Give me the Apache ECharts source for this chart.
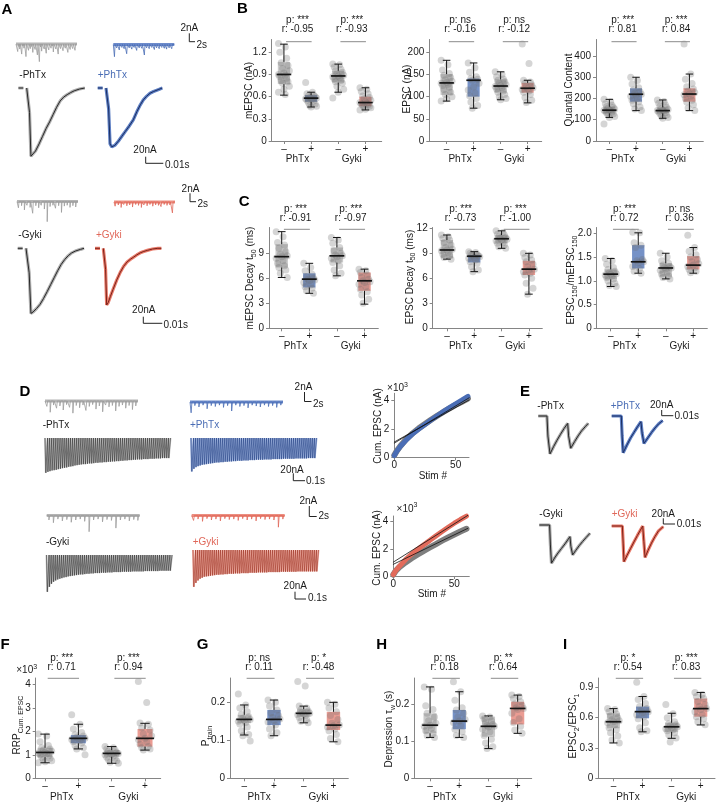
<!DOCTYPE html>
<html>
<head>
<meta charset="utf-8">
<script src="https://cdn.jsdelivr.net/npm/echarts@6.0.0/dist/echarts.min.js"></script>
<style>
html,body{margin:0;padding:0;background:#fff;}
#chart{width:721px;height:806px;}
</style>
</head>
<body>
<div id="chart"></div>
<script>
// ================= DATA =================
const conditionLabels = ['–', '+', '–', '+'];
const drugLabels = ['PhTx', 'Gyki'];

// B – mEPSC amplitude (nA)
const mepscAmpTicks = [0, 0.3, 0.6, 0.9, 1.2];
const mepscAmpPoints = [
  [1.32,1.27,1.20,1.12,1.06,1.02,0.98,0.95,0.92,0.90,0.89,0.87,0.85,0.82,0.80,0.78,0.74,0.70,0.66,0.63],
  [0.79,0.66,0.64,0.62,0.61,0.60,0.59,0.58,0.57,0.57,0.56,0.55,0.54,0.52,0.50,0.48,0.47,0.46],
  [1.04,1.03,1.00,0.97,0.95,0.93,0.91,0.89,0.88,0.87,0.86,0.84,0.82,0.80,0.78,0.74,0.70,0.66,0.58],
  [0.72,0.70,0.67,0.64,0.61,0.59,0.57,0.55,0.53,0.52,0.51,0.50,0.49,0.48,0.47,0.46,0.45,0.43,0.42]
];
const mepscAmpBox = [[0.62,0.77,0.90,1.07,1.31],[0.46,0.53,0.58,0.62,0.66],[0.66,0.79,0.88,0.95,1.04],[0.42,0.47,0.52,0.60,0.72]];
const mepscAmpStats = [['***','-0.95'],['***','-0.93']];

// B – EPSC amplitude (nA)
const epscAmpTicks = [0, 50, 100, 150, 200];
const epscAmpPoints = [
  [182,172,160,152,148,143,138,135,132,130,128,125,121,116,110,105,100,95,90],
  [176,165,155,145,141,139,137,130,122,115,108,102,96,88,80,74],
  [156,150,145,140,137,134,130,127,125,123,120,117,113,110,105,100,96,93],
  [219,175,137,133,130,127,123,120,118,116,113,110,105,98,92,87]
];
const epscAmpBox = [[90,104,131,151,182],[74,100,137,141,176],[93,109,124,139,156],[86,109,119,131,137]];
const epscAmpStats = [['ns','-0.16'],['ns','-0.12']];

// B – Quantal content
const quantalTicks = [0, 100, 200, 300, 400];
const quantalPoints = [
  [196,185,175,168,162,158,154,150,147,145,142,140,137,133,128,122,115,111,80],
  [300,285,268,250,240,232,225,220,215,210,200,192,185,175,160,150,143],
  [193,186,178,170,163,158,152,148,145,143,140,137,133,128,122,116,110,107],
  [456,315,290,270,255,245,235,228,222,218,210,200,192,183,170,155,143]
];
const quantalBox = [[111,130,145,161,196],[143,185,220,248,300],[107,130,143,158,193],[143,185,221,248,315]];
const quantalStats = [['***','0.81'],['***','0.84']];

// C – mEPSC decay t50 (ms)
const mepscDecayTicks = [0, 3, 6, 9];
const mepscDecayPoints = [
  [11.6,11.0,10.3,10.0,9.6,9.2,8.9,8.7,8.6,8.4,8.1,7.8,7.5,7.3,7.0,6.6,6.1],
  [7.8,7.3,6.9,6.5,6.2,6.0,5.9,5.8,5.7,5.5,5.2,5.0,4.8,4.5,4.2],
  [10.9,10.6,10.2,9.7,9.3,9.0,8.8,8.7,8.6,8.4,8.1,7.9,7.5,7.0,6.6,6.3],
  [7.1,6.9,6.7,6.4,6.1,5.9,5.7,5.6,5.5,5.3,5.0,4.7,4.4,4.0,3.5,3.0]
];
const mepscDecayBox = [[6.1,7.3,8.6,10.1,11.6],[4.2,4.9,5.9,6.6,7.8],[6.3,7.9,8.7,9.7,10.9],[2.9,4.5,5.7,6.7,7.1]];
const mepscDecayStats = [['***','-0.91'],['***','-0.97']];

// C – EPSC decay t50 (ms)
const epscDecayTicks = [0, 3, 6, 9, 12];
const epscDecayPoints = [
  [11.2,11.0,10.8,10.6,10.3,10.0,9.7,9.5,9.4,9.3,9.1,8.9,8.7,8.5,8.3],
  [9.2,9.1,9.0,8.9,8.8,8.7,8.7,8.6,8.5,8.4,8.2,8.0,7.8,7.4,7.0,6.8],
  [11.7,11.5,11.3,11.2,11.0,10.9,10.8,10.7,10.6,10.5,10.3,10.2,10.0,9.8,9.6],
  [9.0,8.8,8.5,8.2,8.0,7.7,7.4,7.1,7.0,6.8,6.6,6.4,6.0,5.4,4.8,4.1]
];
const epscDecayBox = [[8.3,8.4,9.4,10.6,11.2],[6.8,7.9,8.65,8.8,9.2],[9.6,10.2,10.75,11.2,11.7],[4.1,6.4,7.1,8.1,9.0]];
const epscDecayStats = [['***','-0.73'],['***','-1.00']];

// C – EPSC150 / mEPSC150
const ratio150Ticks = [0, 0.5, 1.0, 1.5, 2.0];
const ratio150Points = [
  [1.47,1.42,1.35,1.28,1.24,1.20,1.17,1.15,1.14,1.12,1.10,1.07,1.04,1.00,0.95,0.90,0.88],
  [2.02,2.01,1.80,1.75,1.70,1.45,1.42,1.40,1.38,1.30,1.26,1.20,1.16],
  [1.58,1.50,1.42,1.37,1.33,1.30,1.28,1.27,1.25,1.22,1.18,1.14,1.10,1.07,1.04],
  [1.96,1.70,1.62,1.55,1.50,1.45,1.40,1.36,1.33,1.30,1.27,1.24,1.20,1.17]
];
const ratio150Box = [[0.88,1.03,1.14,1.24,1.47],[1.16,1.26,1.40,1.75,2.01],[1.04,1.09,1.27,1.37,1.58],[1.16,1.24,1.33,1.52,1.70]];
const ratio150Stats = [['***','0.72'],['ns','0.36']];

// F – RRP (x10^3)
const rrpTicks = [0, 1, 2, 3, 4];
const rrpPoints = [
  [1.88,1.8,1.55,1.4,1.3,1.25,1.2,1.15,1.1,1.08,1.05,1.0,0.95,0.9,0.85,0.8,0.75,0.7,0.66],
  [2.7,2.3,2.1,1.95,1.85,1.8,1.75,1.7,1.68,1.65,1.6,1.55,1.5,1.4,1.3,1.25,1.0],
  [1.35,1.3,1.25,1.2,1.15,1.1,1.08,1.05,1.02,1.0,0.95,0.9,0.85,0.8,0.75,0.68,0.64],
  [4.12,3.23,2.35,2.3,2.15,2.05,1.9,1.8,1.7,1.65,1.55,1.45,1.35,1.3,1.25,1.2]
];
const rrpBox = [[0.66,0.9,1.1,1.3,1.88],[1.25,1.49,1.7,1.84,2.3],[0.64,0.92,1.06,1.2,1.35],[1.2,1.35,1.7,2.1,2.34]];
const rrpStats = [['***','0.71'],['***','0.94']];

// G – P train
const ptrainTicks = [0, 0.1, 0.2];
const ptrainPoints = [
  [0.222,0.193,0.185,0.175,0.168,0.162,0.158,0.155,0.153,0.15,0.147,0.143,0.135,0.125,0.115,0.112,0.098],
  [0.206,0.2,0.19,0.18,0.172,0.165,0.16,0.156,0.152,0.148,0.14,0.13,0.12,0.112],
  [0.255,0.243,0.19,0.185,0.18,0.177,0.174,0.171,0.169,0.167,0.164,0.16,0.155,0.15,0.146],
  [0.2,0.195,0.185,0.175,0.165,0.155,0.145,0.14,0.138,0.135,0.13,0.125,0.115,0.105,0.096]
];
const ptrainBox = [[0.114,0.145,0.155,0.167,0.193],[0.112,0.14,0.155,0.18,0.206],[0.146,0.162,0.171,0.182,0.19],[0.096,0.127,0.14,0.175,0.2]];
const ptrainStats = [['ns','0.11'],['*','-0.48']];

// H – Depression tau_w (s)
const tauTicks = [0, 0.1, 0.2];
const tauPoints = [
  [0.246,0.24,0.195,0.185,0.175,0.165,0.155,0.148,0.143,0.14,0.135,0.128,0.12,0.115,0.11],
  [0.26,0.233,0.21,0.19,0.184,0.175,0.165,0.158,0.154,0.15,0.142,0.132,0.125,0.115,0.11],
  [0.168,0.165,0.16,0.155,0.15,0.145,0.142,0.14,0.138,0.132,0.125,0.115,0.105,0.095,0.085,0.08],
  [0.224,0.22,0.215,0.206,0.2,0.195,0.19,0.188,0.185,0.175,0.16,0.15,0.14,0.13,0.121]
];
const tauBox = [[0.11,0.121,0.143,0.175,0.246],[0.11,0.132,0.154,0.184,0.233],[0.08,0.112,0.14,0.166,0.168],[0.121,0.145,0.188,0.206,0.224]];
const tauStats = [['ns','0.18'],['**','0.64']];

// I – EPSC2/EPSC1
const pprTicks = [0, 0.3, 0.6, 0.9];
const pprPoints = [
  [0.69,0.68,0.66,0.64,0.62,0.6,0.58,0.57,0.56,0.55,0.53,0.5,0.48,0.45,0.42,0.38,0.35],
  [0.95,0.81,0.78,0.74,0.71,0.69,0.67,0.66,0.65,0.63,0.61,0.59,0.55,0.5,0.47,0.46],
  [0.73,0.64,0.6,0.56,0.54,0.53,0.52,0.51,0.5,0.49,0.48,0.47,0.45,0.43,0.4,0.36],
  [0.85,0.83,0.81,0.79,0.76,0.73,0.71,0.69,0.68,0.66,0.63,0.61,0.59,0.56,0.53]
];
const pprBox = [[0.35,0.495,0.56,0.644,0.69],[0.46,0.594,0.66,0.71,0.81],[0.396,0.46,0.51,0.55,0.644],[0.528,0.61,0.69,0.79,0.85]];
const pprStats = [['*','0.54'],['***','0.83']];

// D – cumulative EPSC (x10^3 nA) vs stimulus number
const cumStimIdx = [0,2,5,10,15,20,25,30,35,40,45,50,55,60];
const cumPhTxCtrl = [0.15,0.45,0.8,1.3,1.7,2.05,2.35,2.65,2.93,3.2,3.45,3.7,3.92,4.15];
const cumPhTxDrug = [0.12,0.42,0.78,1.25,1.66,2.0,2.32,2.63,2.93,3.22,3.5,3.77,4.03,4.3];
const cumGykiCtrl = [0.1,0.38,0.65,1.0,1.3,1.58,1.85,2.1,2.35,2.6,2.83,3.05,3.27,3.47];
const cumGykiDrug = [0.1,0.4,0.72,1.2,1.6,1.97,2.3,2.62,2.95,3.27,3.58,3.88,4.15,4.4];
const cumTicksX = [0, 50];
const cumTicksY = [0, 2, 4];
const fitPhTxCtrl = [[0,1.08],[61,4.05]];
const fitPhTxDrug = [[0,1.0],[61,4.2]];
const fitGykiCtrl = [[0,0.86],[61,3.5]];
const fitGykiDrug = [[0,1.02],[61,4.45]];

// D – 60-pulse trains, EPSC amplitudes (nA)
const stimIntervalMs = 16.67;
const trainPhTxCtrl = [104,101,99,97,96,95,93,92,90,89,88,86,85,84,82,81,80,79,78,78,77,76,76,75,74,74,73,73,72,72,71,71,70,70,69,69,68,68,67,67,66,66,65,65,64,64,64,63,63,63,62,62,62,61,61,61,60,60,60,60];
const trainPhTxDrug = [100,92,87,84,82,80,79,78,77,76,75,74,73,73,72,72,71,71,70,70,69,69,68,68,68,67,67,67,66,66,66,65,65,65,65,64,64,64,64,63,63,63,63,63,62,62,62,62,62,62,61,61,61,61,61,61,60,60,60,60];
const trainGykiCtrl = [110,95,86,80,76,73,71,69,67,66,64,63,62,61,60,59,58,58,57,56,56,55,55,54,54,54,53,53,53,52,52,52,51,51,51,51,50,50,50,50,50,49,49,49,49,49,49,48,48,48,48,48,48,48,47,47,47,47,47,47];
const trainGykiDrug = [110,98,91,86,83,80,79,78,77,76,75,74,74,73,73,72,72,71,71,71,70,70,70,69,69,69,69,68,68,68,68,67,67,67,67,67,66,66,66,66,66,66,65,65,65,65,65,65,65,65,64,64,64,64,64,64,64,64,64,64];

// A – averaged EPSC traces [ms, nA]
const aPhTxCtrl = [[-4.7,0],[-1.9,0],[-1,'-'],[0,0],[1,-4],[1.6,-70],[2.4,-195],[3.5,-191],[5,-180],[7,-160],[9,-138],[11,-116],[13,-97],[15,-76],[17,-55],[19,-37],[21,-26],[23,-19],[25,-13],[27,-8],[30,-3],[33,0]];
const aPhTxDrug = [[-4.7,0],[-1.9,0],[-1,'-'],[0,0],[1,-4],[1.5,-60],[2.3,-160],[3.3,-168],[5,-164],[7,-152],[9,-138],[11,-124],[13,-110],[15.5,-91],[17.5,-68],[19.5,-48],[21.2,-34],[23,-24],[25,-15],[27,-10],[30,-4],[32,0]];
const aGykiCtrl = [[-4.7,0],[-1.9,0],[-1,'-'],[0,0],[1,-4],[1.8,-70],[2.8,-186],[4,-182],[6,-172],[8,-160],[10,-143],[12,-124],[14,-104],[16,-84],[18,-64],[20,-46],[22,-32],[24,-21],[26,-13],[28,-8],[31,-3],[33,0]];
const aGykiDrug = [[-4.7,0],[-1.9,0],[-1,'-'],[0,0],[0.8,-4],[1.3,-60],[1.9,-162],[2.8,-155],[4,-138],[5.5,-118],[7.6,-91],[9.5,-70],[11.5,-52],[13.5,-39],[15.5,-31],[17,-26],[19,-19],[21,-13],[23,-9],[25,-6],[28,-2],[31,0],[33,0]];

// A / D – spontaneous mEPSC recordings: events [s, nA]
const miniPhTxCtrlA = [[0.6,1.8],[1.0,0.6],[1.3,1.2],[2.0,2.4],[2.4,0.5],[2.8,1.0],[3.5,3.0],[4.4,1.5],[5.0,1.1],[5.4,0.6],[5.9,2.0],[6.7,1.3],[7.5,2.6],[8.2,4.2],[8.6,0.7],[9.0,1.7],[9.9,1.2],[10.6,2.2],[11.5,1.4],[12.3,1.0],[12.7,0.5],[13.1,1.9],[14.0,1.2],[14.8,2.4],[15.6,1.1],[16.5,1.6],[17.3,1.0],[18.2,2.0],[19.0,1.3],[19.9,1.1],[20.7,1.5]];
const miniPhTxDrugA = [[0.4,2.9],[1.2,0.8],[2.1,1.3],[3.0,0.7],[3.8,1.0],[4.7,2.2],[5.6,0.8],[6.5,1.1],[7.3,0.7],[8.2,1.4],[9.1,0.8],[10.0,0.9],[10.9,2.5],[11.7,0.8],[12.6,1.0],[13.5,0.7],[14.4,1.2],[15.2,0.8],[16.1,1.0],[17.0,0.7],[17.9,0.9],[18.7,1.1],[19.6,0.8],[20.5,1.0]];
const miniGykiCtrlA = [[0.5,1.5],[1.6,1.0],[2.6,2.0],[3.5,0.9],[4.6,1.4],[5.5,2.8],[6.6,1.0],[7.6,1.5],[8.5,0.9],[9.6,1.8],[10.6,4.8],[11.6,1.2],[12.6,0.9],[13.5,1.6],[14.6,1.0],[15.6,2.6],[16.6,1.1],[17.6,0.9],[18.6,1.4],[19.6,1.0],[20.6,1.3]];
const miniGykiDrugA = [[0.4,1.0],[1.5,0.7],[2.5,1.3],[3.4,0.6],[4.5,0.9],[5.5,0.7],[6.5,1.2],[7.6,0.6],[8.6,0.8],[9.6,1.3],[10.5,0.7],[11.6,0.9],[12.6,0.6],[13.6,1.0],[14.6,0.7],[15.6,0.8],[16.5,1.1],[17.6,0.6],[18.6,0.8],[19.6,0.7],[20.5,2.6]];
const miniPhTxCtrlD = [[0.5,1.2],[1.4,2.5],[2.3,0.9],[3.1,1.6],[4.0,1.1],[4.9,2.0],[5.8,0.8],[6.6,1.4],[7.5,2.7],[8.4,1.0],[9.3,1.5],[10.2,0.9],[11.0,2.1],[11.9,1.2],[12.8,0.8],[13.7,1.8],[14.6,1.1],[15.5,2.4],[16.3,0.9],[17.2,1.3],[18.1,1.0],[19.0,2.2],[19.9,1.2],[20.8,0.9],[21.7,1.6],[22.6,1.0],[23.5,1.9],[24.4,1.1]];
const miniPhTxDrugD = [[0.3,2.4],[1.3,0.8],[2.4,1.1],[3.5,0.7],[4.6,1.5],[5.7,0.8],[6.8,1.0],[7.9,0.7],[9.0,1.2],[10.1,0.8],[11.2,2.0],[12.3,0.7],[13.4,1.0],[14.5,0.8],[15.6,1.3],[16.7,0.7],[17.8,0.9],[18.9,1.1],[20.0,0.7],[21.1,1.0],[22.2,0.8],[23.3,1.2],[24.4,0.7]];
const miniGykiCtrlD = [[0.6,1.0],[1.8,1.6],[3.0,0.8],[4.2,1.2],[5.4,0.9],[6.6,1.5],[7.8,1.0],[9.0,0.8],[10.2,1.3],[11.4,3.6],[12.6,1.0],[13.8,0.8],[15.0,1.4],[16.2,0.9],[17.4,1.1],[18.6,2.8],[19.8,1.0],[21.0,0.8],[22.2,1.2],[23.4,0.9],[24.5,1.1]];
const miniGykiDrugD = [[0.5,1.1],[1.7,0.8],[2.9,1.3],[4.1,0.7],[5.3,1.0],[6.5,0.8],[7.7,1.2],[8.9,0.7],[10.1,0.9],[11.3,0.8],[12.5,1.1],[13.7,0.7],[14.9,1.0],[16.1,0.8],[17.3,1.2],[18.5,0.7],[19.7,0.9],[20.9,0.8],[22.1,1.0],[23.3,2.6],[24.5,0.8]];

// E – paired-pulse traces [ms, nA]
const ePhTxCtrl = [[0,0],[7.4,0],[8.2,-70],[10,-133],[13,-108],[16,-85],[19,-64],[22,-44],[25.1,-26],[25.9,-70],[27.7,-113],[31,-90],[34,-70],[37,-52],[40,-38],[42.7,-26]];
const ePhTxDrug = [[0,0],[8.2,0],[8.9,-70],[9.8,-129],[13,-102],[16,-78],[19,-58],[22,-38],[25,-20],[26,-60],[27.6,-96],[31,-76],[34,-58],[37,-42],[40,-28],[43.6,-16]];
const eGykiCtrl = [[0,0],[8.8,0],[9.5,-70],[10.4,-134],[13,-116],[16,-98],[19,-82],[22,-66],[26.2,-41],[27,-75],[28.5,-105],[31,-90],[34,-73],[37,-58],[40,-44],[43.3,-29]];
const eGykiDrug = [[0,0],[9.1,0],[9.8,-60],[10.5,-125],[13,-104],[16,-80],[19,-56],[22,-33],[26.5,0],[27.5,-55],[28.5,-110],[31,-86],[34,-60],[37,-37],[40,-17],[44.1,-2]];

// ================= BUILD =================
const FONT = '"Liberation Sans", Arial, Helvetica, sans-serif';
const AX = '#858585';
const TXT = '#1a1a1a';
const BLUE_T = '#4a6db5', RED_T = '#e0685a';
const grids = [], xAxes = [], yAxes = [], series = [], gfx = [];
const RICH = {
  s: {fontSize: 7, fontFamily: FONT, fill: TXT, lineHeight: 6, verticalAlign: 'bottom'},
  u: {fontSize: 7, fontFamily: FONT, fill: TXT, lineHeight: 6, verticalAlign: 'top'}
};

function fmt(v, dec) { return Math.abs(v) < 1e-9 ? '0' : v.toFixed(dec); }
function jit(i) { return (((i * 5) % 9) - 4) * 0.05; }

function T(x, y, text, o) {
  o = o || {};
  gfx.push({
    type: 'text', x: x, y: y, rotation: o.rot || 0, silent: true, z: 100,
    style: {
      text: text, fill: o.color || TXT, fontSize: o.size || 10, fontFamily: FONT,
      fontWeight: o.weight || 'normal', lineHeight: o.rich ? 14 : undefined,
      align: o.align || 'center', verticalAlign: 'middle',
      textAlign: o.align || 'center', textVerticalAlign: 'middle',
      rich: o.rich ? RICH : undefined
    }
  });
}
function PL(points, color, w) {
  gfx.push({type: 'polyline', silent: true, z: 100, shape: {points: points}, style: {stroke: color || '#222', lineWidth: w || 1, fill: null}});
}

const ROWS = {
  B: {p: 20.6, r: 29.3, bar: 41.7, grp: 159},
  C: {p: 209.7, r: 218.3, bar: 229.3, grp: 346.5},
  F: {p: 658.3, r: 667, bar: 678.3, grp: 797.3}
};
const boxColors = ['rgba(150,150,150,0.5)', 'rgba(60,100,175,0.7)', 'rgba(150,150,150,0.5)', 'rgba(222,95,80,0.62)'];

function addBoxPanel(p) {
  const gi = grids.length;
  grids.push({left: p.left, top: p.top, width: p.width, height: p.height});
  xAxes.push({
    type: 'value', gridIndex: gi, min: p.xmin, max: p.xmax, position: 'bottom',
    axisLine: {show: true, onZero: false, lineStyle: {color: AX, width: 1}},
    axisTick: {show: true, length: 3, customValues: [0, 1, 2, 3], lineStyle: {color: AX}},
    axisLabel: {customValues: [0, 1, 2, 3], formatter: v => conditionLabels[Math.round(v)], color: TXT, fontSize: 10, fontFamily: FONT, margin: 3},
    splitLine: {show: false}
  });
  yAxes.push({
    type: 'value', gridIndex: gi, min: 0, max: p.ymax,
    axisLine: {show: true, onZero: false, lineStyle: {color: AX, width: 1}},
    axisTick: {show: true, length: 3, customValues: p.ticks, lineStyle: {color: AX}},
    axisLabel: {customValues: p.ticks, formatter: v => fmt(v, p.dec), color: TXT, fontSize: 10, fontFamily: FONT, margin: 5},
    splitLine: {show: false}
  });
  const boxData = p.box.map((b, g) => [g].concat(b));
  series.push({
    type: 'custom', xAxisIndex: gi, yAxisIndex: gi, z: 1, silent: true, clip: false,
    encode: {x: 0, y: [1, 2, 3, 4, 5]}, data: boxData,
    renderItem: function (params, api) {
      const x = api.value(0), q1 = api.value(2), q3 = api.value(4);
      const a = api.coord([x - 0.225, q3]), b = api.coord([x + 0.225, q1]);
      return {type: 'rect', shape: {x: a[0], y: a[1], width: b[0] - a[0], height: b[1] - a[1]},
        style: {fill: boxColors[params.dataIndex]}};
    }
  });
  const pts = [];
  p.pts.forEach((arr, g) => arr.forEach((v, i) => pts.push([g + jit(i), v])));
  series.push({
    type: 'scatter', xAxisIndex: gi, yAxisIndex: gi, z: 2, silent: true, symbolSize: 7,
    itemStyle: {color: 'rgba(110,110,110,0.36)'}, data: pts
  });
  series.push({
    type: 'custom', xAxisIndex: gi, yAxisIndex: gi, z: 3, silent: true, clip: false,
    encode: {x: 0, y: [1, 2, 3, 4, 5]}, data: boxData.map(r => r.slice()),
    renderItem: function (params, api) {
      const x = api.value(0), lo = api.value(1), q1 = api.value(2), med = api.value(3), q3 = api.value(4), hi = api.value(5);
      const c = (a, b) => api.coord([a, b]);
      const ln = (p1, p2, w) => ({type: 'line', shape: {x1: p1[0], y1: p1[1], x2: p2[0], y2: p2[1]}, style: {stroke: '#141414', lineWidth: w}});
      return {type: 'group', children: [
        ln(c(x, lo), c(x, q1), 1), ln(c(x, q3), c(x, hi), 1),
        ln(c(x - 0.14, lo), c(x + 0.14, lo), 1), ln(c(x - 0.14, hi), c(x + 0.14, hi), 1),
        ln(c(x - 0.27, med), c(x + 0.27, med), 1.7)
      ]};
    }
  });
  const sx = v => p.left + (v - p.xmin) / (p.xmax - p.xmin) * p.width;
  const R = ROWS[p.row];
  for (let g = 0; g < 2; g++) {
    const cx = sx(2 * g + 0.5);
    T(cx, R.p, 'p: ' + p.stats[g][0]);
    T(cx, R.r, 'r: ' + p.stats[g][1]);
    PL([[sx(2 * g + 0.08), R.bar], [sx(2 * g + 1.02), R.bar]], '#8c8c8c', 1);
    T(cx, R.grp, drugLabels[g]);
  }
  T(p.titleX, p.titleY, p.title, {rot: Math.PI / 2, rich: true});
}

const boxPanels = [
  {pts: mepscAmpPoints, box: mepscAmpBox, stats: mepscAmpStats, ticks: mepscAmpTicks, dec: 1, row: 'B',
   left: 271.7, top: 39.5, width: 110, height: 101.5, xmin: -0.45, xmax: 3.6, ymax: 1.373,
   title: 'mEPSC (nA)', titleX: 249.5, titleY: 90.5},
  {pts: epscAmpPoints, box: epscAmpBox, stats: epscAmpStats, ticks: epscAmpTicks, dec: 0, row: 'B',
   left: 429.3, top: 39.5, width: 112.4, height: 101.5, xmin: -0.64, xmax: 3.52, ymax: 228.9,
   title: 'EPSC (nA)', titleX: 407.5, titleY: 89},
  {pts: quantalPoints, box: quantalBox, stats: quantalStats, ticks: quantalTicks, dec: 0, row: 'B',
   left: 596, top: 39.5, width: 107.3, height: 101.5, xmin: -0.5, xmax: 3.52, ymax: 477.6,
   title: 'Quantal Content', titleX: 569, titleY: 90},
  {pts: mepscDecayPoints, box: mepscDecayBox, stats: mepscDecayStats, ticks: mepscDecayTicks, dec: 0, row: 'C',
   left: 269, top: 227.5, width: 109.3, height: 100.8, xmin: -0.46, xmax: 3.5, ymax: 12.1,
   title: 'mEPSC Decay t{s|50} (ms)', titleX: 250.7, titleY: 278},
  {pts: epscDecayPoints, box: epscDecayBox, stats: epscDecayStats, ticks: epscDecayTicks, dec: 0, row: 'C',
   left: 432.7, top: 227.5, width: 109.6, height: 100.8, xmin: -0.52, xmax: 3.49, ymax: 12.1,
   title: 'EPSC Decay t{s|50} (ms)', titleX: 410, titleY: 277},
  {pts: ratio150Points, box: ratio150Box, stats: ratio150Stats, ticks: ratio150Ticks, dec: 1, row: 'C',
   left: 596.7, top: 227.5, width: 110.6, height: 100.8, xmin: -0.51, xmax: 3.51, ymax: 2.122,
   title: 'EPSC{s|150}/mEPSC{s|150}', titleX: 571.7, titleY: 280},
  {pts: rrpPoints, box: rrpBox, stats: rrpStats, ticks: rrpTicks, dec: 0, row: 'F',
   left: 35.7, top: 678, width: 125, height: 100.3, xmin: -0.28, xmax: 3.47, ymax: 4.268,
   title: 'RRP{s|Cum. EPSC}', titleX: 17.5, titleY: 725},
  {pts: ptrainPoints, box: ptrainBox, stats: ptrainStats, ticks: ptrainTicks, dec: 1, row: 'F',
   left: 230, top: 678, width: 118.3, height: 100.3, xmin: -0.48, xmax: 3.5, ymax: 0.264,
   title: 'P{s|train}', titleX: 206.7, titleY: 736},
  {pts: tauPoints, box: tauBox, stats: tauStats, ticks: tauTicks, dec: 1, row: 'F',
   left: 414.3, top: 678, width: 117.4, height: 100.3, xmin: -0.54, xmax: 3.48, ymax: 0.27,
   title: 'Depression τ{s|w} (s)', titleX: 389.3, titleY: 729},
  {pts: pprPoints, box: pprBox, stats: pprStats, ticks: pprTicks, dec: 1, row: 'F',
   left: 598.3, top: 678, width: 116.7, height: 100.3, xmin: -0.52, xmax: 3.49, ymax: 0.993,
   title: 'EPSC{s|2}/EPSC{s|1}', titleX: 573.3, titleY: 726}
];
boxPanels.forEach(addBoxPanel);
T(26.7, 670.5, '×10{u|3}', {rich: true});

// ---- cumulative plots (each layer in its own overlaid grid, stacked by zlevel) ----
function cumGrid(c, showAxes) {
  const gi = grids.length;
  grids.push({left: c.left, top: c.top, width: c.width, height: c.height});
  xAxes.push({
    type: 'value', gridIndex: gi, min: 0, max: c.xmax, show: showAxes,
    axisLine: {show: true, onZero: false, lineStyle: {color: AX}},
    axisTick: {show: true, length: 3, customValues: cumTicksX, lineStyle: {color: AX}},
    axisLabel: {customValues: cumTicksX, color: TXT, fontSize: 10, fontFamily: FONT, margin: 3},
    splitLine: {show: false}
  });
  yAxes.push({
    type: 'value', gridIndex: gi, min: 0, max: c.ymax, show: showAxes,
    axisLine: {show: true, onZero: false, lineStyle: {color: AX}},
    axisTick: {show: true, length: 3, customValues: cumTicksY, lineStyle: {color: AX}},
    axisLabel: {customValues: cumTicksY, color: TXT, fontSize: 10, fontFamily: FONT, margin: 5},
    splitLine: {show: false}
  });
  return gi;
}
function addCumPanel(c) {
  const mk = vals => cumStimIdx.map((s, i) => [s, vals[i]]);
  const L = (data, color, w, zl, axes) => {
    const gi = cumGrid(c, axes);
    series.push({type: 'line', xAxisIndex: gi, yAxisIndex: gi, data: data, symbol: 'none', z: 2, zlevel: zl, silent: true, clip: false, lineStyle: {color: color, width: w, cap: 'round'}});
  };
  L(mk(c.ctrl), '#7e7e7e', 6, 0, true);
  L(mk(c.drug), c.color, 5, 1, false);
  L(c.fitCtrl, '#111', 0.8, 2, false);
  L(c.fitDrug, '#111', 0.8, 2, false);
  T(c.titleX, c.titleY, 'Cum. EPSC (nA)', {rot: Math.PI / 2});
  T(c.left + 38.5, c.top + c.height + 18.5, 'Stim #');
  T(c.expX, c.expY, '×10{u|3}', {rich: true});
}
addCumPanel({left: 394.3, top: 393.3, width: 74.7, height: 64, xmax: 60.9, ymax: 4.517,
  ctrl: cumPhTxCtrl, drug: cumPhTxDrug, fitCtrl: fitPhTxCtrl, fitDrug: fitPhTxDrug, color: '#4a6db5',
  titleX: 378.5, titleY: 426, expX: 397.5, expY: 388.5});
addCumPanel({left: 393.3, top: 516, width: 76, height: 60, xmax: 62.3, ymax: 4.41,
  ctrl: cumGykiCtrl, drug: cumGykiDrug, fitCtrl: fitGykiCtrl, fitDrug: fitGykiDrug, color: '#e26b5b',
  titleX: 377.5, titleY: 548, expX: 407, expY: 509});

// ---- trace grids (hidden axes; band on zlevel 0, core on zlevel 1) ----
function traceGrid(ox, oy, sx, sy, xmin, xmax, ymin, ymax) {
  const gi = grids.length;
  grids.push({left: ox + xmin * sx, top: oy - ymax * sy, width: (xmax - xmin) * sx, height: (ymax - ymin) * sy});
  xAxes.push({type: 'value', gridIndex: gi, min: xmin, max: xmax, show: false});
  yAxes.push({type: 'value', gridIndex: gi, min: ymin, max: ymax, show: false});
  return gi;
}
function layer(geo, data, color, width, zl) {
  const gi = traceGrid.apply(null, geo);
  series.push({type: 'line', xAxisIndex: gi, yAxisIndex: gi, data: data, symbol: 'none', showSymbol: false,
    clip: false, connectNulls: false, silent: true, z: 2, zlevel: zl, lineStyle: {color: color, width: width}});
}
function miniData(events, dur) {
  const d = [[0, 0]];
  events.forEach(e => { d.push([e[0] - 0.06, 0], [e[0], -e[1]], [e[0] + 0.22, 0]); });
  d.push([dur, 0]);
  return d;
}
function trainData(amps) {
  const d = [[-4, 0]];
  amps.forEach((a, i) => { const t = i * stimIntervalMs; d.push([t, 0], [t + 2.5, -a]); });
  d.push([amps.length * stimIntervalMs, 0]);
  return d;
}
function addMini(ox, oy, sx, sy, dur, events, band, core) {
  const geo = [ox, oy, sx, sy, 0, dur, -6, 1];
  layer(geo, [[0, 0], [dur, 0]], band, 3.2, 0);
  layer(geo, miniData(events, dur), core, 0.8, 1);
}
function addEPSC(ox, oy, sx, sy, xmin, xmax, data, band, core) {
  const geo = [ox, oy, sx, sy, xmin, xmax, -210, 10];
  layer(geo, data, band, 3.2, 0);
  layer(geo, data.map(p => p.slice()), core, 1, 1);
}
function addTrain(ox, oy, amps, band, core) {
  const geo = [ox, oy, 0.125, 0.335, -5, 1010, -125, 5];
  layer(geo, trainData(amps), band, 1.9, 0);
  layer(geo, trainData(amps), core, 0.6, 1);
}

const GRAYB = '#b4b4b4', BLUEB = '#6d8bcb', REDB = '#ec8e80';
// A
addMini(16, 44, 2.85, 4.2, 21.4, miniPhTxCtrlA, GRAYB, '#9c9c9c');
addMini(113.3, 44.5, 2.85, 4.2, 21.4, miniPhTxDrugA, BLUEB, '#4a6db5');
addMini(17, 201.5, 2.85, 4.2, 21.4, miniGykiCtrlA, GRAYB, '#9c9c9c');
addMini(114, 202, 2.85, 4.2, 21.4, miniGykiDrugA, REDB, '#e0685a');
addEPSC(26.7, 88, 1.76, 0.35, -5, 34, aPhTxCtrl, '#b0b0b0', '#262626');
addEPSC(106, 88, 1.76, 0.35, -5, 34, aPhTxDrug, '#5f80c4', '#1a2d62');
addEPSC(26, 248.3, 1.76, 0.35, -5, 34, aGykiCtrl, '#b0b0b0', '#262626');
addEPSC(103.3, 248.3, 1.76, 0.35, -5, 34, aGykiDrug, '#e87a6a', '#7a2218');
// D
addMini(45, 401, 3.72, 4.5, 25, miniPhTxCtrlD, GRAYB, '#9c9c9c');
addMini(190, 402, 3.72, 4.5, 25, miniPhTxDrugD, BLUEB, '#4a6db5');
addMini(46.7, 515.5, 3.72, 4.5, 25, miniGykiCtrlD, GRAYB, '#9c9c9c');
addMini(191.7, 515.5, 3.72, 4.5, 25, miniGykiDrugD, REDB, '#e0685a');
addTrain(45.5, 438, trainPhTxCtrl, '#c4c4c4', '#333');
addTrain(191.5, 438, trainPhTxDrug, '#9db2de', '#254183');
addTrain(47, 555, trainGykiCtrl, '#c4c4c4', '#333');
addTrain(193.5, 550, trainGykiDrug, '#f2b0a5', '#9a3324');
// E
addEPSC(538.3, 416, 1.17, 0.285, -1, 45, ePhTxCtrl, '#a8a8a8', '#262626');
addEPSC(611.7, 416, 1.17, 0.285, -1, 45, ePhTxDrug, '#5f80c4', '#1a2d62');
addEPSC(539.3, 525, 1.17, 0.285, -1, 45, eGykiCtrl, '#a8a8a8', '#262626');
addEPSC(611.7, 526, 1.17, 0.285, -1, 45, eGykiDrug, '#e87a6a', '#7a2218');

// ---- trace labels & scale bars ----
T(19.3, 75, '-PhTx', {align: 'left'});
T(97.7, 75, '+PhTx', {align: 'left', color: BLUE_T});
T(18.3, 235, '-Gyki', {align: 'left'});
T(96, 235, '+Gyki', {align: 'left', color: RED_T});
T(42.7, 425, '-PhTx', {align: 'left'});
T(190, 425, '+PhTx', {align: 'left', color: BLUE_T});
T(46, 542.7, '-Gyki', {align: 'left'});
T(192.7, 542.7, '+Gyki', {align: 'left', color: RED_T});
T(537.3, 406, '-PhTx', {align: 'left'});
T(610.7, 406, '+PhTx', {align: 'left', color: BLUE_T});
T(539.3, 514, '-Gyki', {align: 'left'});
T(611.7, 514, '+Gyki', {align: 'left', color: RED_T});

function scaleBar(x, y1, y2, x2, tTop, tRight, topCx, topCy, rightX, rightY) {
  PL([[x, y1], [x, y2], [x2, y2]], '#222', 1);
  T(topCx, topCy, tTop);
  T(rightX, rightY, tRight, {align: 'left'});
}
scaleBar(189.3, 33.3, 41.7, 195, '2nA', '2s', 189.3, 28.3, 196.5, 45);
scaleBar(145.7, 156.7, 163.3, 163.3, '20nA', '0.01s', 145, 150.7, 165, 165.7);
scaleBar(190, 193.3, 201.7, 196, '2nA', '2s', 190.5, 189, 197.5, 204.5);
scaleBar(143.3, 316.7, 323.3, 162.3, '20nA', '0.01s', 143.8, 310, 163.5, 325);
scaleBar(304.5, 392, 401.5, 311.5, '2nA', '2s', 303.5, 387.5, 313, 404);
scaleBar(293.3, 473.3, 480.7, 305, '20nA', '0.1s', 292, 470.7, 306, 481);
scaleBar(309.3, 506, 516.5, 316.7, '2nA', '2s', 308.3, 501.7, 318.5, 516.5);
scaleBar(295, 591.7, 599, 306, '20nA', '0.1s', 295.3, 586.7, 308, 598);
scaleBar(661.7, 410, 415.7, 673.3, '20nA', '0.01s', 661.7, 405.5, 674.5, 416);
scaleBar(663.3, 518.3, 524, 675, '20nA', '0.01s', 663.3, 514, 676.7, 524);

// ---- panel letters ----
[['A', 7, 9.5], ['B', 242.5, 9.2], ['C', 244.2, 201.7], ['D', 25, 391.7], ['E', 525, 391.7],
 ['F', 5, 645], ['G', 202.5, 645], ['H', 381.7, 645], ['I', 565, 645]].forEach(l => T(l[1], l[2], l[0], {size: 15, weight: 'bold', color: '#000'}));

const chart = echarts.init(document.getElementById('chart'), null, {renderer: 'canvas', width: 721, height: 806});
chart.setOption({
  animation: false,
  backgroundColor: '#fff',
  textStyle: {fontFamily: FONT},
  grid: grids,
  xAxis: xAxes,
  yAxis: yAxes,
  series: series,
  graphic: {elements: gfx}
});
</script>
</body>
</html>
